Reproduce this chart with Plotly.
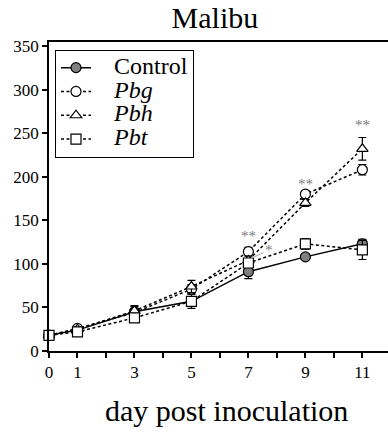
import plotly.graph_objects as go

# Days post inoculation and group means (± error)
days = [0, 1, 3, 5, 7, 9, 11]

control = [18, 24, 45, 57, 91, 108, 123]
control_err = [2, 2, 7, 8, 8, 3, 5]

pbg = [18, 26, 44, 71, 114, 180, 208]
pbg_err = [2, 2, 4, 5, 5, 4, 6]

pbh = [18, 25, 46, 74, 104, 170, 232]
pbh_err = [2, 2, 5, 7, 5, 4, 13]

pbt = [18, 22, 38, 57, 101, 123, 116]
pbt_err = [2, 2, 3, 5, 5, 6, 11]

# Significance marks
sig_days = [7, 9, 11]
sig_vals = [132, 192, 259]
sig_text = ["**", "**", "**"]
single_sig_day = 7.72
single_sig_val = 116
single_sig_from = (7.08, 106)

x_tickvals = list(range(0, 12))
x_ticktext = ["0", "1", "", "3", "", "5", "", "7", "", "9", "", "11"]
y_tickvals = [0, 50, 100, 150, 200, 250, 300, 350]

FONT = "Liberation Serif"
PAD = "\u00a0\u00a0\u00a0"
LEG = "<span style=\"font-size:24px;font-family:'Liberation Serif',serif\">" + PAD + "{}</span>"

fig = go.Figure()


def add_series(y, err, name, symbol, fill, dash):
    fig.add_trace(go.Scatter(
        x=days, y=y, name=name, mode="lines+markers",
        line=dict(color="black", width=1.5, dash=dash),
        marker=dict(symbol=symbol, size=10, color=fill,
                    line=dict(color="black", width=1.2)),
        error_y=dict(type="data", array=err, visible=True,
                     color="black", thickness=1.2, width=4),
        cliponaxis=False,
    ))


dash = "3px,2.5px"
add_series(control, control_err, LEG.format("Control"), "circle", "#808080", "solid")
add_series(pbg, pbg_err, LEG.format("<i>Pbg</i>"), "circle", "white", dash)
add_series(pbh, pbh_err, LEG.format("<i>Pbh</i>"), "triangle-up", "white", dash)
add_series(pbt, pbt_err, LEG.format("<i>Pbt</i>"), "square", "white", dash)

annotations = []
for d, v, t in zip(sig_days, sig_vals, sig_text):
    annotations.append(dict(
        x=d, y=v, xref="x", yref="y", text=t, showarrow=False,
        font=dict(family=FONT, size=15, color="#7a7a7a"),
    ))
annotations.append(dict(
    x=single_sig_from[0], y=single_sig_from[1], xref="x", yref="y",
    ax=single_sig_day, ay=single_sig_val, axref="x", ayref="y",
    text="*", showarrow=True, arrowhead=0, arrowwidth=1,
    arrowcolor="#a0a0a0",
    font=dict(family=FONT, size=15, color="#7a7a7a"),
))
annotations.append(dict(
    x=0.524, y=-0.194, xref="paper", yref="paper",
    text="day post inoculation", showarrow=False,
    xanchor="center", yanchor="middle",
    font=dict(family=FONT, size=30, color="black"),
))

fig.update_layout(
    width=388, height=432,
    margin=dict(l=49, r=0, t=42, b=81),
    paper_bgcolor="white", plot_bgcolor="white",
    font=dict(family=FONT, size=17, color="black"),
    title=dict(text="Malibu", x=0.554, xanchor="center",
               y=1 - 7 / 432, yanchor="top", yref="container",
               font=dict(family=FONT, size=30, color="black")),
    xaxis=dict(range=[0, 11.9], tickvals=x_tickvals, ticktext=x_ticktext,
               showline=True, linecolor="black", linewidth=1.5,
               mirror=True, ticks="outside", ticklen=5, tickwidth=1.5,
               tickcolor="black", showgrid=False, zeroline=False,
               tickfont=dict(family=FONT, size=17, color="black")),
    yaxis=dict(range=[0, 354.6], tickvals=y_tickvals,
               showline=True, linecolor="black", linewidth=1.5,
               ticks="outside", ticklen=5, tickwidth=1.5,
               tickcolor="black", showgrid=False, zeroline=False,
               tickfont=dict(family=FONT, size=17, color="black")),
    legend=dict(x=0.0177, y=0.975, xanchor="left", yanchor="top",
                bordercolor="black", borderwidth=1, bgcolor="white",
                font=dict(family=FONT, size=16, color="black"),
                tracegroupgap=0),
    annotations=annotations,
    showlegend=True,
)

fig.write_html("out.html")
